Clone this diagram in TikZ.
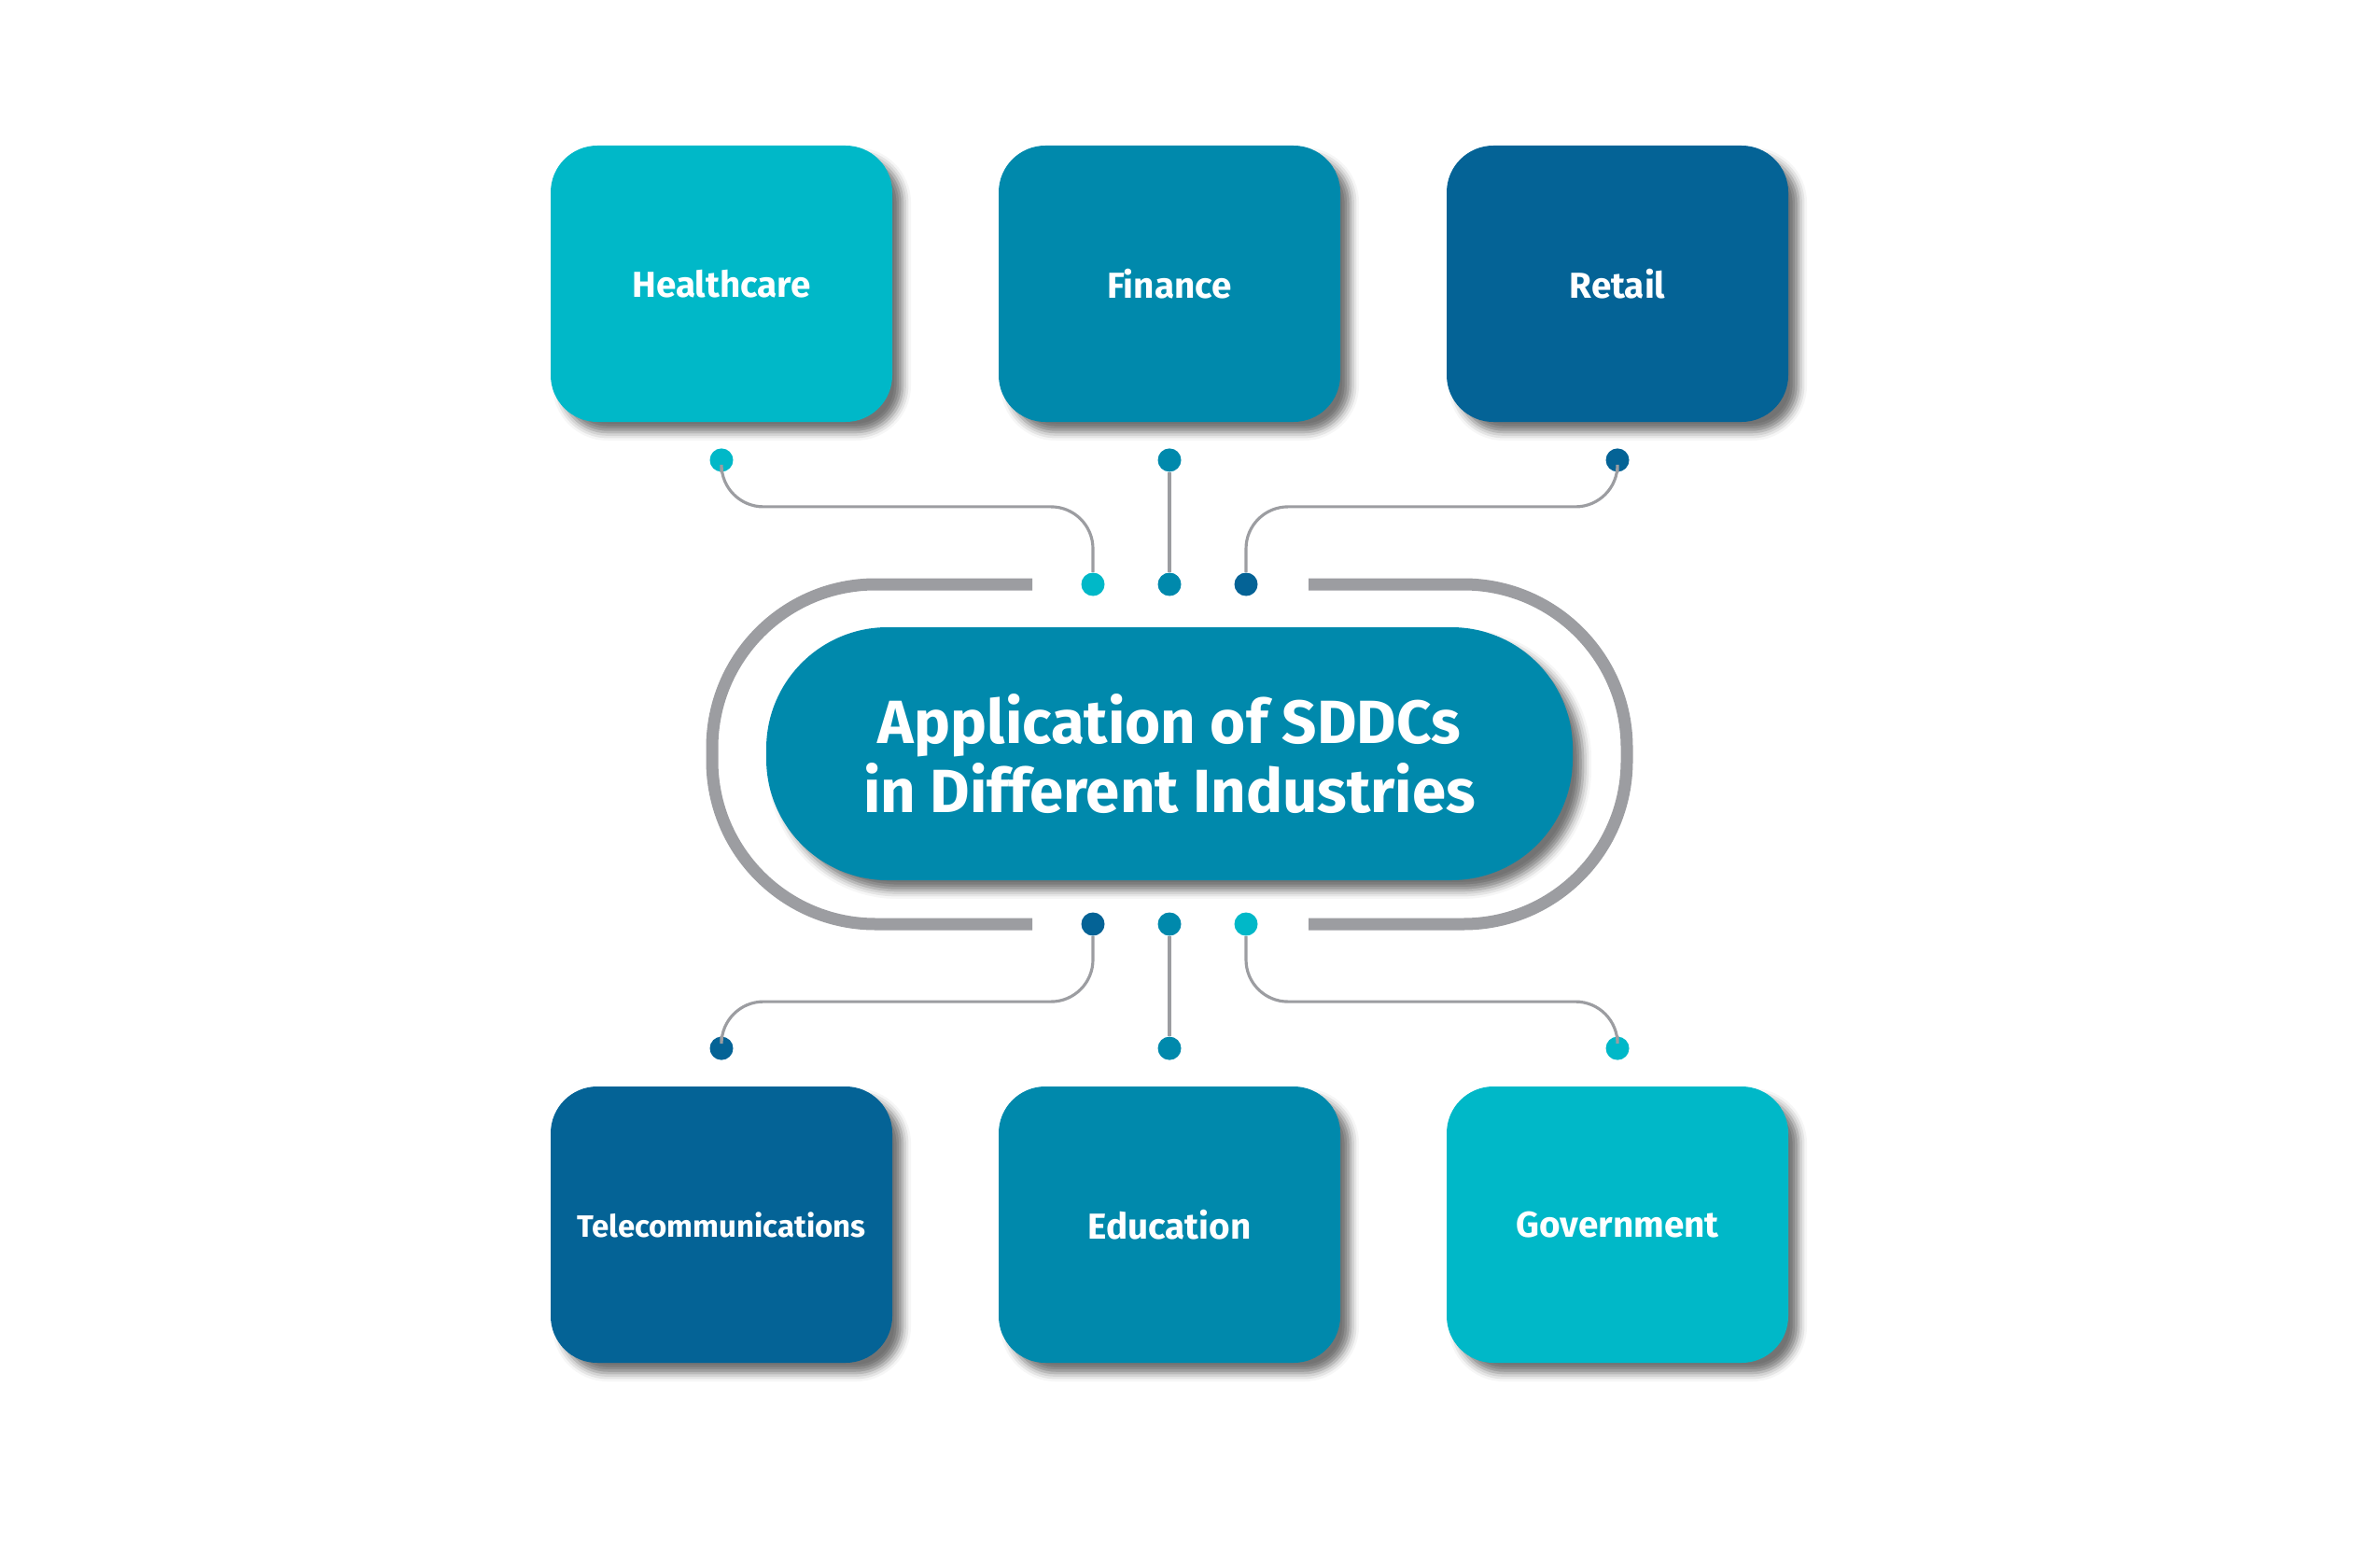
\documentclass[tikz,border=0pt]{standalone}
\usepackage{fontspec}
\setmainfont{Fira Sans}
\definecolor{tileCyan}{HTML}{00B8C8}
\definecolor{tileTeal}{HTML}{0089AC}
\definecolor{tileNavy}{HTML}{046396}
\definecolor{wireGrey}{HTML}{9C9DA1}
\usetikzlibrary{positioning, shadows.blur}

\begin{document}
\begin{tikzpicture}[
    tile/.style={rectangle, rounded corners=0.5cm,
                 minimum width=3.66cm, minimum height=2.96cm, align=center,
                 text=white, font=\bfseries\fontsize{11}{13}\selectfont,
                 blur shadow={shadow xshift=1.1mm, shadow yshift=-1.1mm,
                              shadow blur radius=0.9mm, shadow opacity=55}},
    hub/.style={rectangle, rounded corners=1.3cm, fill=tileTeal,
                minimum width=8.64cm, minimum height=2.71cm, align=center,
                text=white, font=\bfseries\fontsize{18.6}{21}\selectfont,
                blur shadow={shadow xshift=1.1mm, shadow yshift=-1.1mm,
                             shadow blur radius=0.9mm, shadow opacity=55}},
    pin/.style={circle, inner sep=0pt, minimum size=0.25cm},
    wire/.style={draw=wireGrey, line width=0.9pt, rounded corners=0.45cm},
    track/.style={draw=wireGrey, line width=3.7pt, rounded corners=1.75cm}
  ]
    \useasboundingbox (0,0) rectangle (25.5,-16.66);

    % outer track round the hub
    \coordinate (tl) at (11.06,-6.26);
    \coordinate (bl) at (11.06,-9.90);
    \coordinate (tr) at (14.02,-6.26);
    \coordinate (br) at (14.02,-9.90);
    \draw[track] (tl) -| (7.63,-9.90) -- (bl);
    \draw[track] (tr) -| (17.43,-9.90) -- (br);

    \node[hub] (hub) at (12.53,-8.075) {Application of SDDCs\\in Different Industries};

    % industry tiles
    \node[tile, fill=tileCyan] (hc) at (7.73,-3.04) {Healthcare};
    \node[tile, fill=tileTeal] (fi) at (12.53,-3.04) {Finance};
    \node[tile, fill=tileNavy] (re) at (17.33,-3.04) {Retail};
    \node[tile, fill=tileNavy, font=\bfseries\fontsize{9.4}{11}\selectfont] (tc) at (7.73,-13.12) {Telecommunications};
    \node[tile, fill=tileTeal] (ed) at (12.53,-13.12) {Education};
    \node[tile, fill=tileCyan] (go) at (17.33,-13.12) {Government};

    % pins under and over the tiles
    \node[pin, fill=tileCyan, below=0.27cm of hc] (pH) {};
    \node[pin, fill=tileTeal, below=0.27cm of fi] (pF) {};
    \node[pin, fill=tileNavy, below=0.27cm of re] (pR) {};
    \node[pin, fill=tileNavy, above=0.27cm of tc] (pT) {};
    \node[pin, fill=tileTeal, above=0.27cm of ed] (pE) {};
    \node[pin, fill=tileCyan, above=0.27cm of go] (pG) {};

    % pins at the hub
    \node[pin, fill=tileCyan] (qH) at (11.71,-6.26) {};
    \node[pin, fill=tileTeal] (qF) at (12.53,-6.26) {};
    \node[pin, fill=tileNavy] (qR) at (13.35,-6.26) {};
    \node[pin, fill=tileNavy] (qT) at (11.71,-9.90) {};
    \node[pin, fill=tileTeal] (qE) at (12.53,-9.90) {};
    \node[pin, fill=tileCyan] (qG) at (13.35,-9.90) {};

    % wires
    \draw[wire] (pH) -- ++(0,-0.5) -| (qH);
    \draw[wire] (pF) -- (qF);
    \draw[wire] (pR) -- ++(0,-0.5) -| (qR);
    \draw[wire] (pT) -- ++(0,0.5) -| (qT);
    \draw[wire] (pE) -- (qE);
    \draw[wire] (pG) -- ++(0,0.5) -| (qG);
  \end{tikzpicture}
\end{document}
